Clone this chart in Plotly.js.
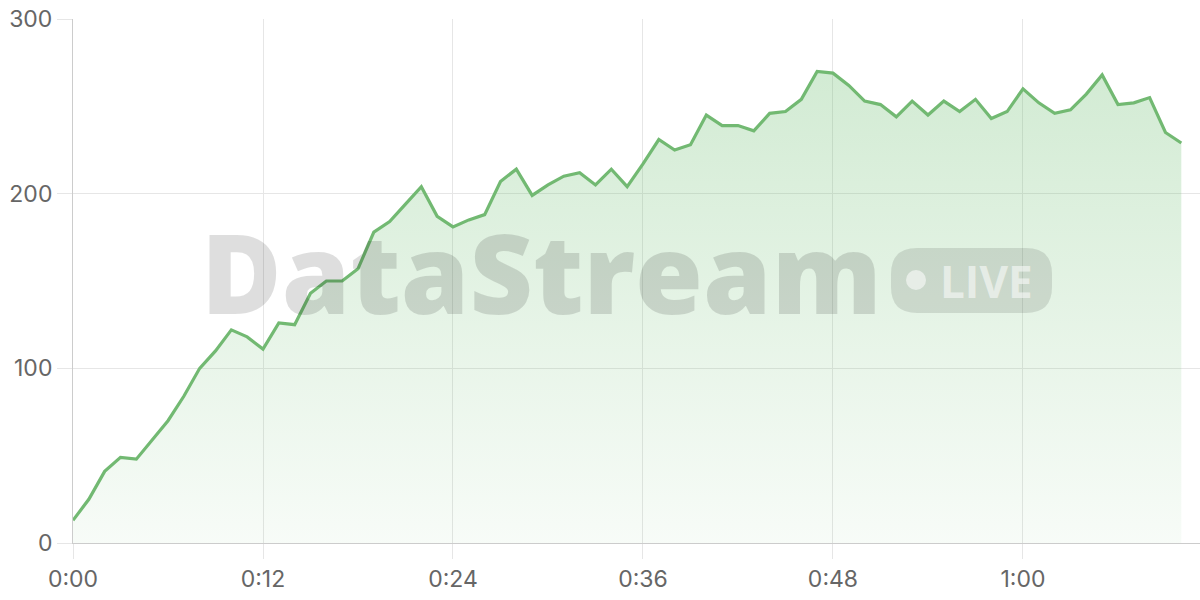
<!DOCTYPE html>
<html>
<head>
<meta charset="utf-8">
<script src="https://cdn.plot.ly/plotly-3.0.1.min.js"></script>
<style>
  html, body { margin: 0; padding: 0; background: #fff; }
  #chart { width: 1200px; height: 600px; }
</style>
</head>
<body>
<div id="chart"></div>
<script>
// minutes since start, one reading per minute
const minutes = [];
for (let m = 0; m <= 70; m++) minutes.push(m);

const viewers = [
  13, 25, 41, 49, 48, 59, 70, 84, 100, 110,
  122, 118, 111, 126, 125, 143, 150, 150, 157, 178,
  184, 194, 204, 187, 181, 185, 188, 207, 214, 199,
  205, 210, 212, 205, 214, 204, 217, 231, 225, 228,
  245, 239, 239, 236, 246, 247, 254, 270, 269, 262,
  253, 251, 244, 253, 245, 253, 247, 254, 243, 247,
  260, 252, 246, 248, 257, 268, 251, 252, 255, 235,
  229
];

const tickMinutes = [0, 12, 24, 36, 48, 60];
const tickLabels = ['0:00', '0:12', '0:24', '0:36', '0:48', '1:00'];
const yTicks = [0, 100, 200, 300];

// plot area in pixels
const L = 73, T = 19, W = 1127, H = 524;
const px = x => (x - L) / W;
const py = y => (T + H - y) / H;

// rounded badge behind "LIVE"
function roundRect(x0, y0, x1, y1, r) {
  const rx = r / W, ry = r / H;
  const a = px(x0), b = px(x1), top = py(y0), bot = py(y1);
  return 'M' + (a + rx) + ',' + top +
    ' L' + (b - rx) + ',' + top +
    ' Q' + b + ',' + top + ' ' + b + ',' + (top - ry) +
    ' L' + b + ',' + (bot + ry) +
    ' Q' + b + ',' + bot + ' ' + (b - rx) + ',' + bot +
    ' L' + (a + rx) + ',' + bot +
    ' Q' + a + ',' + bot + ' ' + a + ',' + (bot + ry) +
    ' L' + a + ',' + (top - ry) +
    ' Q' + a + ',' + top + ' ' + (a + rx) + ',' + top + ' Z';
}

const trace = {
  x: minutes,
  y: viewers,
  type: 'scatter',
  mode: 'lines',
  line: { color: '#72b972', width: 3.2 },
  fill: 'tozeroy',
  fillgradient: {
    type: 'vertical',
    start: 0,
    stop: 300,
    colorscale: [
      [0, 'rgba(102,187,106,0.05)'],
      [1, 'rgba(102,187,106,0.32)']
    ]
  },
  hoverinfo: 'skip'
};

const axisFont = { family: 'Inter, "Liberation Sans", sans-serif', size: 23, color: '#666' };

const layout = {
  width: 1200,
  height: 600,
  margin: { l: L, r: 0, t: T, b: 600 - T - H },
  paper_bgcolor: '#fff',
  plot_bgcolor: '#fff',
  showlegend: false,
  xaxis: {
    range: [0, W / 15.833],
    tickvals: tickMinutes,
    ticktext: tickLabels,
    showgrid: true,
    gridcolor: '#e6e6e6',
    gridwidth: 1,
    zeroline: false,
    showline: true,
    linecolor: '#cccccc',
    linewidth: 1,
    ticks: 'outside',
    ticklen: 15,
    tickcolor: '#e6e6e6',
    tickfont: axisFont,
    fixedrange: true
  },
  yaxis: {
    range: [0, 300],
    tickvals: yTicks,
    showgrid: true,
    gridcolor: '#e6e6e6',
    gridwidth: 1,
    zeroline: false,
    showline: true,
    linecolor: '#cccccc',
    linewidth: 1,
    ticks: 'outside',
    ticklen: 15,
    tickcolor: '#e6e6e6',
    tickfont: axisFont,
    fixedrange: true
  },
  shapes: [
    {
      type: 'path', xref: 'paper', yref: 'paper',
      path: roundRect(891, 248, 1052, 313, 26),
      fillcolor: 'rgba(0,0,0,0.11)', line: { width: 0 }
    },
    {
      type: 'circle', xref: 'paper', yref: 'paper',
      x0: px(906), x1: px(926), y0: py(290), y1: py(270),
      fillcolor: 'rgba(255,255,255,0.55)', line: { width: 0 }
    }
  ],
  annotations: [
    {
      xref: 'paper', yref: 'paper',
      x: px(541), y: py(271),
      xanchor: 'center', yanchor: 'middle',
      text: 'DataStream',
      showarrow: false,
      font: { family: '"Open Sans", "Noto Sans", sans-serif', size: 110, weight: 800, color: 'rgba(0,0,0,0.13)' }
    },
    {
      xref: 'paper', yref: 'paper',
      x: px(987), y: py(281),
      xanchor: 'center', yanchor: 'middle',
      text: 'LIVE',
      showarrow: false,
      font: { family: '"Open Sans", "Noto Sans", sans-serif', size: 44, weight: 700, color: 'rgba(255,255,255,0.55)' }
    }
  ]
};

Plotly.newPlot('chart', [trace], layout, { staticPlot: true, displayModeBar: false });
</script>
</body>
</html>
